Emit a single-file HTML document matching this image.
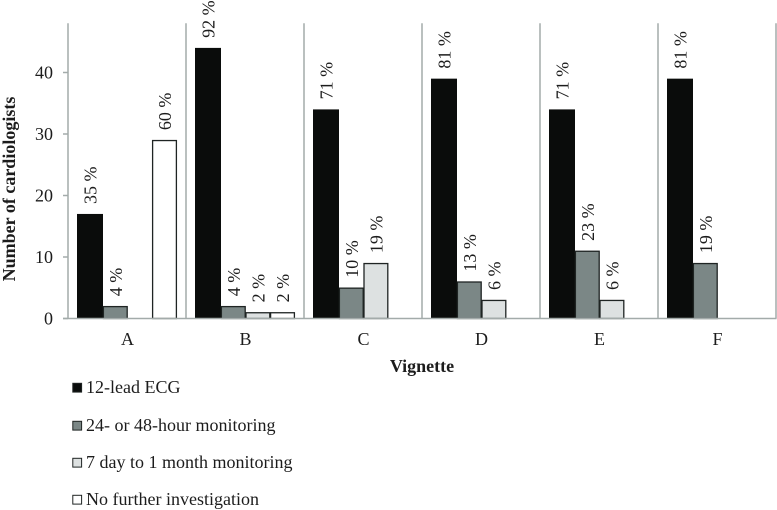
<!DOCTYPE html>
<html>
<head>
<meta charset="utf-8">
<style>
html,body{margin:0;padding:0;background:#fff;width:777px;height:510px;overflow:hidden}
svg{display:block;filter:blur(0.3px)}
text{font-family:"Liberation Serif",serif;fill:#1c1c1c}
</style>
</head>
<body>
<svg id="chart" width="777" height="510" viewBox="0 0 777 510" xmlns="http://www.w3.org/2000/svg"></svg>
<script>
var categories = ['A', 'B', 'C', 'D', 'E', 'F'];
var seriesNames = ['12-lead ECG', '24- or 48-hour monitoring', '7 day to 1 month monitoring', 'No further investigation'];
var ecgValues = [17, 44, 34, 39, 34, 39];
var holterValues = [2, 2, 5, 6, 11, 9];
var extendedValues = [0, 1, 9, 3, 3, 0];
var noneValues = [29, 1, 0, 0, 0, 0];
var ecgLabels = ['35 %', '92 %', '71 %', '81 %', '71 %', '81 %'];
var holterLabels = ['4 %', '4 %', '10 %', '13 %', '23 %', '19 %'];
var extendedLabels = ['', '2 %', '19 %', '6 %', '6 %', ''];
var noneLabels = ['60 %', '2 %', '', '', '', ''];
var yTicks = [0, 10, 20, 30, 40];

var seriesValues = [ecgValues, holterValues, extendedValues, noneValues];
var seriesLabels = [ecgLabels, holterLabels, extendedLabels, noneLabels];
var seriesFills = ['#0a0c0b', '#7b8786', '#dde1e1', '#ffffff'];
var seriesKeys = ['ecg', 'holter', 'extended', 'none'];

var NS = 'http://www.w3.org/2000/svg';
var svg = document.getElementById('chart');
var plotLeft = 68, catWidth = 118, baseY = 318.5, unit = 6.15, barWidth = 24.6, firstBarWidth = 26, barOffset = 9, axisMax = 48;
var gridColor = '#a3abaa';

function xCat(i) { return plotLeft + i * catWidth; }
function yVal(v) { return baseY - v * unit; }
function make(tag, attrs, txt) {
  var el = document.createElementNS(NS, tag);
  for (var k in attrs) el.setAttribute(k, attrs[k]);
  if (txt !== undefined) el.textContent = txt;
  svg.appendChild(el);
  return el;
}

// category separators
for (var i = 0; i <= categories.length; i++) {
  var sep = make('line', {x1: xCat(i), x2: xCat(i), y1: yVal(axisMax), y2: baseY, stroke: gridColor, 'stroke-width': 1.5});
  
  
}

// y ticks
yTicks.forEach(function (t) {
  var tick = make('line', {x1: plotLeft - 5, x2: plotLeft, y1: yVal(t), y2: yVal(t), stroke: gridColor, 'stroke-width': 1.5});
  
  
  var lab = make('text', {x: 53, y: yVal(t) + 6, 'text-anchor': 'end', 'font-size': 18}, String(t));
  
  
});

// bars and value labels
categories.forEach(function (c, ci) {
  seriesValues.forEach(function (vals, si) {
    var v = vals[ci];
    if (v <= 0) return;
    var w = si === 0 ? firstBarWidth : barWidth;
    var bx = xCat(ci) + barOffset + (si === 0 ? 0 : firstBarWidth + (si - 1) * barWidth);
    var outlined = si > 0;
    var bar = make('rect', {
      x: bx + (outlined ? 0.4 : 0), y: yVal(v) + (outlined ? 0.4 : 0),
      width: w - (outlined ? 0.8 : 0), height: v * unit - (outlined ? 0.4 : 0),
      fill: seriesFills[si], stroke: outlined ? '#1f2423' : 'none', 'stroke-width': outlined ? 1.3 : 0
    });
    
    
    var txt = seriesLabels[si][ci];
    if (txt) {
      var cx = bx + w / 2 + 6.5;
      var cy = yVal(v) - 10;
      var vl = make('text', {x: cx, y: cy, 'font-size': 18, transform: 'rotate(-90 ' + cx + ' ' + cy + ')'}, txt);
      
      
    }
  });
  var cl = make('text', {x: xCat(ci) + catWidth / 2 + 0.5, y: 345, 'text-anchor': 'middle', 'font-size': 18}, c);
  
  
});

// x axis
var xAxis = make('line', {x1: plotLeft - 5, x2: xCat(categories.length) + 0.5, y1: baseY, y2: baseY, stroke: gridColor, 'stroke-width': 1.5});



// titles
var xTitle = make('text', {x: 422, y: 372, 'text-anchor': 'middle', 'font-size': 18, 'font-weight': 'bold'}, 'Vignette');


var yTitle = make('text', {x: 15, y: 189, 'text-anchor': 'middle', 'font-size': 18, 'font-weight': 'bold', transform: 'rotate(-90 15 189)'}, 'Number of cardiologists');



// legend
var legendBaselines = [393, 431, 468, 505];
seriesNames.forEach(function (n, si) {
  var by = legendBaselines[si];
  var sw = make('rect', {x: 72.8, y: by - 9.7, width: 8.8, height: 8.8, fill: seriesFills[si], stroke: '#1f2423', 'stroke-width': 1});
  
  
  var lt = make('text', {x: 86, y: by, 'font-size': 18}, n);
  
  
});
</script>
</body>
</html>
